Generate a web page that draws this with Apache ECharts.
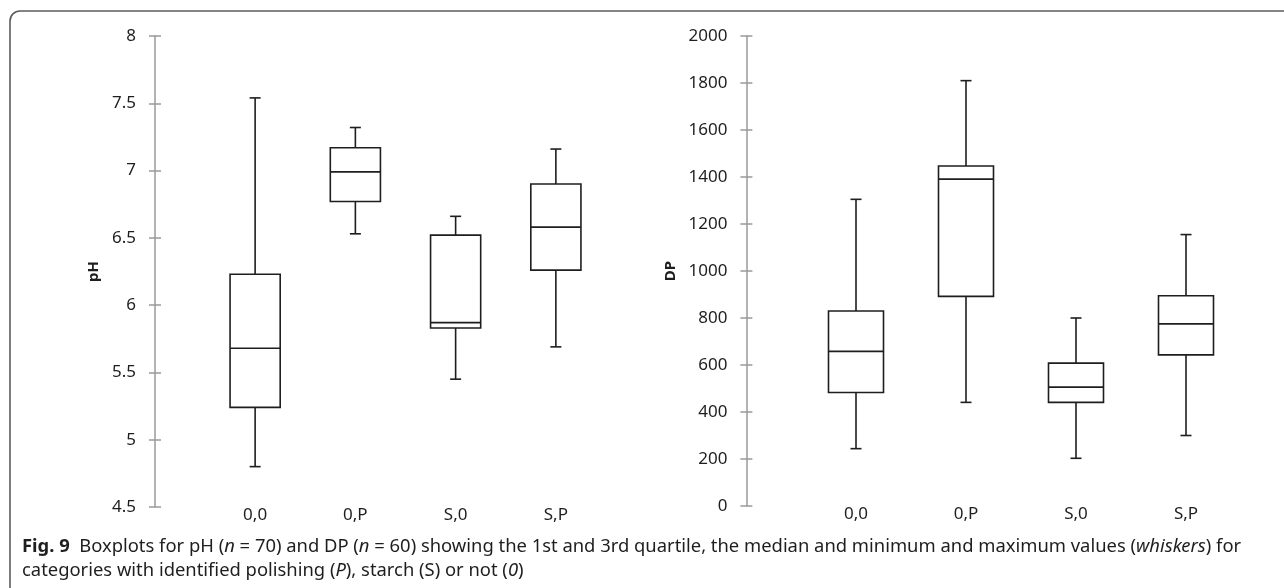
<!DOCTYPE html>
<html>
<head>
<meta charset="utf-8">
<script src="https://cdn.jsdelivr.net/npm/echarts@6/dist/echarts.min.js"></script>
<style>
  html, body { margin: 0; padding: 0; background: #fff; }
  #chart { width: 1284px; height: 588px; }
</style>
</head>
<body>
<div id="chart"></div>
<script>
// categories
var cats = ["0,0", "0,P", "S,0", "S,P"];

// pH boxplot values (min, Q1, median, Q3, max)
var phMin = [4.80, 6.53, 5.45, 5.69];
var phQ1 = [5.24, 6.77, 5.83, 6.26];
var phMed = [5.68, 6.99, 5.87, 6.58];
var phQ3 = [6.23, 7.17, 6.52, 6.90];
var phMax = [7.54, 7.32, 6.66, 7.16];

// DP boxplot values
var dpMin = [244, 441, 203, 300];
var dpQ1 = [483, 892, 441, 643];
var dpMed = [658, 1391, 506, 775];
var dpQ3 = [830, 1447, 608, 895];
var dpMax = [1305, 1810, 800, 1155];

var FONT = "Noto Sans";
var INK = "#1e1e1e";
var AXIS_GREY = "#9a9a9a";

function rows(mn, q1, md, q3, mx) {
  var out = [];
  for (var i = 0; i < cats.length; i++) {
    out.push([i, mn[i], q1[i], md[i], q3[i], mx[i]]);
  }
  return out;
}

// box + whiskers with short caps, positioned with the axis scales
function renderBox(params, api) {
  var i = api.value(0);
  var pMin = api.coord([i, api.value(1)]);
  var pQ1 = api.coord([i, api.value(2)]);
  var pMed = api.coord([i, api.value(3)]);
  var pQ3 = api.coord([i, api.value(4)]);
  var pMax = api.coord([i, api.value(5)]);
  var half = api.size([1, 0])[0] * 0.25;
  var cap = 5.5;
  var x = pMed[0];
  var st = { stroke: INK, lineWidth: 1.6, fill: null };
  return {
    type: "group",
    children: [
      { type: "line", shape: { x1: x, y1: pMax[1], x2: x, y2: pQ3[1] }, style: st },
      { type: "line", shape: { x1: x, y1: pQ1[1], x2: x, y2: pMin[1] }, style: st },
      { type: "line", shape: { x1: x - cap, y1: pMax[1], x2: x + cap, y2: pMax[1] }, style: st },
      { type: "line", shape: { x1: x - cap, y1: pMin[1], x2: x + cap, y2: pMin[1] }, style: st },
      { type: "rect", shape: { x: x - half, y: pQ3[1], width: half * 2, height: pQ1[1] - pQ3[1] }, style: st },
      { type: "line", shape: { x1: x - half, y1: pMed[1], x2: x + half, y2: pMed[1] }, style: st }
    ]
  };
}

function valueAxis(grid, min, max, interval, offset, name, gap, withLabels) {
  return {
    type: "value",
    gridIndex: grid,
    position: "left",
    min: min,
    max: max,
    interval: interval,
    offset: offset,
    name: withLabels ? name : "",
    nameLocation: "middle",
    nameGap: gap,
    nameTextStyle: { fontFamily: FONT, fontWeight: "bold", fontSize: 15, color: INK },
    splitLine: { show: false },
    axisLine: { show: withLabels, lineStyle: { color: AXIS_GREY, width: 1.5 } },
    axisTick: { show: true, inside: !withLabels, length: 6, lineStyle: { color: AXIS_GREY, width: 1.5 } },
    axisLabel: {
      show: withLabels,
      margin: 19,
      fontFamily: FONT,
      fontSize: 17,
      color: INK,
      formatter: function (v) { return String(v); }
    }
  };
}

function catAxis(grid) {
  return {
    type: "category",
    gridIndex: grid,
    data: cats,
    axisLine: { show: false },
    axisTick: { show: false },
    axisLabel: { margin: 0, fontFamily: FONT, fontSize: 17, color: INK }
  };
}

var chart = echarts.init(document.getElementById("chart"));

var option = {
  animation: false,
  grid: [
    { left: 205, top: 36, width: 401, height: 471 },
    { left: 801, top: 36, width: 440, height: 470 }
  ],
  xAxis: [catAxis(0), catAxis(1)],
  yAxis: [
    valueAxis(0, 4.5, 8, 0.5, 50, "pH", 54, true),
    valueAxis(0, 4.5, 8, 0.5, 50, "", 0, false),
    valueAxis(1, 0, 2000, 200, 54.6, "DP", 68, true),
    valueAxis(1, 0, 2000, 200, 54.6, "", 0, false)
  ],
  series: [
    {
      type: "custom",
      xAxisIndex: 0,
      yAxisIndex: 0,
      renderItem: renderBox,
      encode: { x: 0, y: [1, 2, 3, 4, 5] },
      data: rows(phMin, phQ1, phMed, phQ3, phMax)
    },
    {
      type: "custom",
      xAxisIndex: 1,
      yAxisIndex: 2,
      renderItem: renderBox,
      encode: { x: 0, y: [1, 2, 3, 4, 5] },
      data: rows(dpMin, dpQ1, dpMed, dpQ3, dpMax)
    }
  ],
  graphic: [
    {
      type: "rect",
      shape: { x: 10, y: 11, width: 1400, height: 700, r: [10, 0, 0, 0] },
      style: { fill: null, stroke: "#5c5c5c", lineWidth: 1.6 },
      silent: true
    },
    {
      type: "text",
      left: 22,
      top: 538,
      style: {
        text: "{b|Fig. 9}  Boxplots for pH ({i|n} = 70) and DP ({i|n} = 60) showing the 1st and 3rd quartile, the median and minimum and maximum values ({i|whiskers}) for",
        font: "18.4px 'Noto Sans'",
        fill: INK,
        rich: {
          b: { fontFamily: FONT, fontSize: 18.4, fontWeight: "bold", fill: INK },
          i: { fontFamily: FONT, fontSize: 18.4, fontStyle: "italic", fill: INK }
        }
      }
    },
    {
      type: "text",
      left: 22,
      top: 562,
      style: {
        text: "categories with identified polishing ({i|P}), starch (S) or not ({i|0})",
        font: "18.4px 'Noto Sans'",
        fill: INK,
        rich: {
          i: { fontFamily: FONT, fontSize: 18.4, fontStyle: "italic", fill: INK }
        }
      }
    }
  ]
};

chart.setOption(option);
</script>
</body>
</html>
